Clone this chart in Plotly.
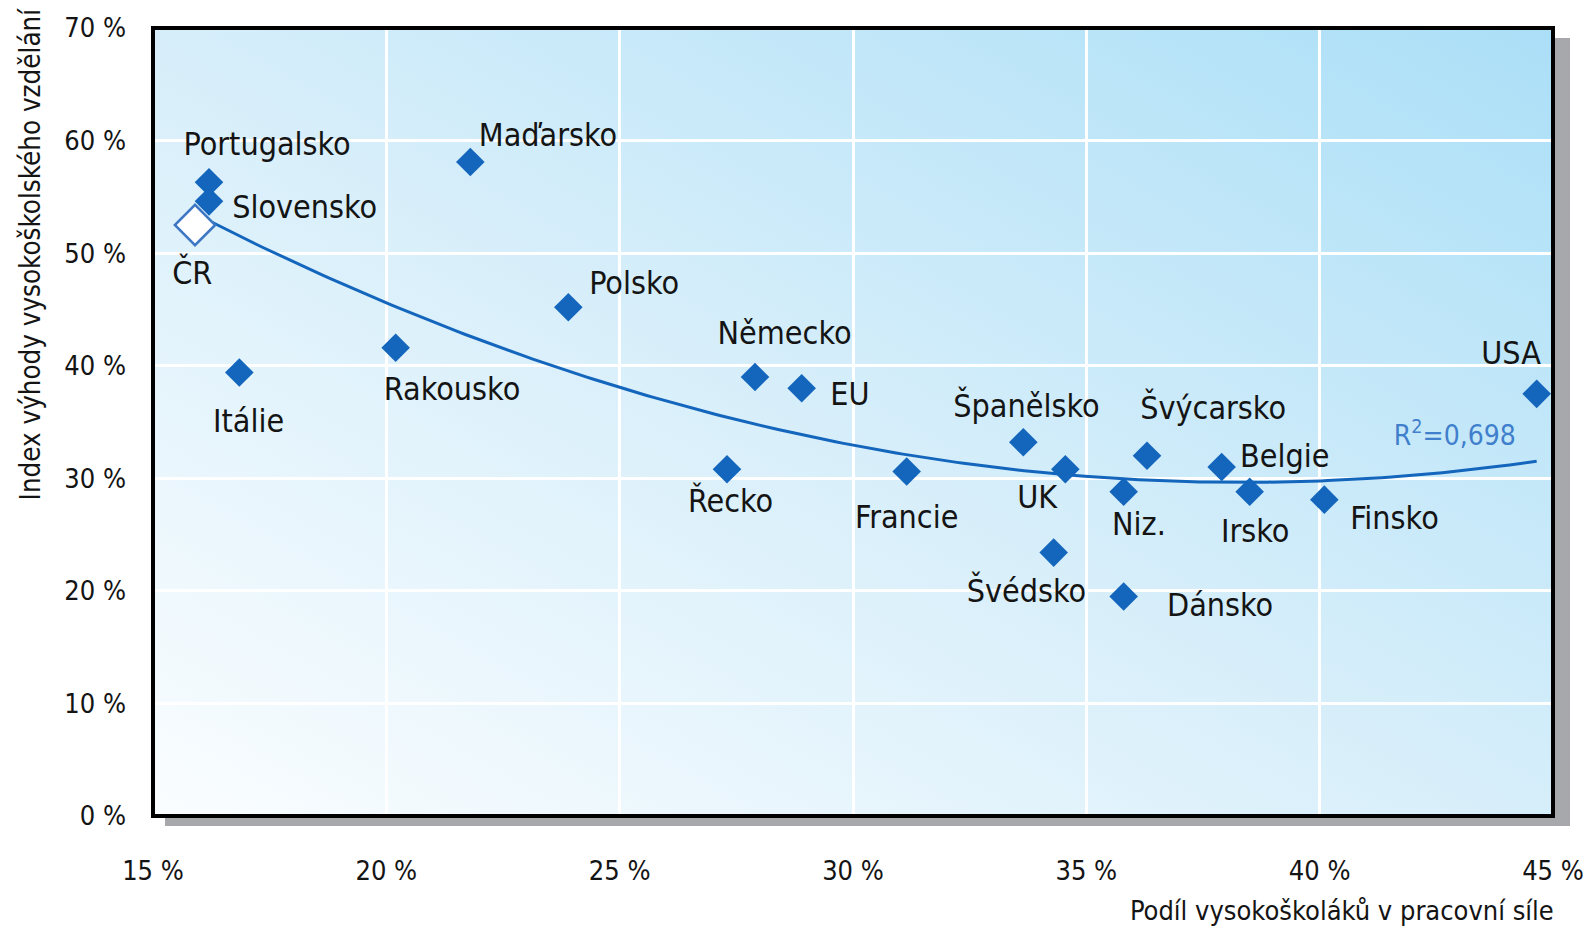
import base64
import numpy as np
import plotly.graph_objects as go

# ---------------- data ----------------
countries = ["Portugalsko", "Slovensko", "Itálie", "Rakousko", "Maďarsko", "Polsko",
             "Německo", "EU", "Řecko", "Francie", "Španělsko", "UK", "Švédsko",
             "Niz.", "Švýcarsko", "Dánsko", "Belgie", "Irsko", "Finsko", "USA"]
graduate_share = [16.2, 16.2, 16.85, 20.2, 21.8, 23.9,
                  27.9, 28.9, 27.3, 31.15, 33.65, 34.55, 34.3,
                  35.8, 36.3, 35.8, 37.9, 38.5, 40.1, 44.65]
advantage_index = [56.3, 54.6, 39.4, 41.6, 58.1, 45.2,
                   39.0, 38.0, 30.8, 30.6, 33.2, 30.8, 23.4,
                   28.8, 32.0, 19.5, 31.0, 28.8, 28.1, 37.5]

cr_name = "ČR"
cr_share = [15.9]
cr_index = [52.5]

# trend curve (quadratic, R² = 0,698)
trend_x_read = [16.36, 20, 25, 30, 35, 40, 44.7]
trend_y_read = [52.9, 45.1, 37.9, 33.2, 30.2, 29.9, 31.4]
r2_text = "R<sup>2</sup>=0,698"

x_ticks = [15, 20, 25, 30, 35, 40, 45]
x_tick_labels = ["15 %", "20 %", "25 %", "30 %", "35 %", "40 %", "45 %"]
y_ticks = [0, 10, 20, 30, 40, 50, 60, 70]
y_tick_labels = ["0 %", "10 %", "20 %", "30 %", "40 %", "50 %", "60 %", "70 %"]
x_title = "Podíl vysokoškoláků v pracovní síle"
y_title = "Index výhody vysokoškolského vzdělání"

# ---------------- layout helpers (positions / styles) ----------------
label_offsets = {  # pixel offsets of label centre from point (dx right, dy down)
    "Portugalsko": (58, -38), "Slovensko": (95, 6), "Itálie": (9, 49),
    "Rakousko": (56, 41), "Maďarsko": (78, -27), "Polsko": (66, -24),
    "Německo": (29, -44), "EU": (48, 6), "Řecko": (3, 32), "Francie": (0, 45),
    "Španělsko": (3, -37), "UK": (-28, 28), "Švédsko": (-27, 38),
    "Niz.": (15, 32), "Švýcarsko": (66, -48), "Dánsko": (96, 9),
    "Belgie": (63, -11), "Irsko": (5, 39), "Finsko": (70, 18), "USA": (-26, -41),
}

FONT = "DejaVu Sans, sans-serif"
BLUE = "#1466bd"
W, H = 1589, 937
ML, MR, MT, MB = 153, 36, 28, 121
PW, PH = W - ML - MR, H - MT - MB

coef = np.polyfit(trend_x_read, trend_y_read, 2)
tx = np.linspace(cr_share[0], max(graduate_share), 200)
ty = np.polyval(coef, tx)

fig = go.Figure()
fig.add_trace(go.Scatter(x=tx, y=ty, mode="lines",
                         line=dict(color=BLUE, width=3), hoverinfo="skip"))
fig.add_trace(go.Scatter(x=graduate_share, y=advantage_index, mode="markers",
                         marker=dict(symbol="diamond", size=22, color=BLUE,
                                     line=dict(width=0)),
                         text=countries))
fig.add_trace(go.Scatter(x=cr_share, y=cr_index, mode="markers",
                         marker=dict(symbol="diamond", size=31, color="white",
                                     line=dict(width=2.5, color="#3d77c4")),
                         text=[cr_name]))

LBL = dict(family=FONT, size=32, color="#141414")
ann = []
for name, xv, yv in zip(countries, graduate_share, advantage_index):
    dx, dy = label_offsets[name]
    ann.append(dict(x=xv, y=yv, text=name, showarrow=False, xshift=dx, yshift=-dy,
                    xanchor="center", yanchor="middle", font=LBL))
ann.append(dict(x=cr_share[0], y=cr_index[0], text=cr_name, showarrow=False,
                xshift=-3, yshift=-47, xanchor="center", yanchor="middle", font=LBL))
ann.append(dict(x=tx[-1], y=ty[-1], text=r2_text, showarrow=False,
                xshift=-82, yshift=28, xanchor="center", yanchor="middle",
                font=dict(family=FONT, size=28, color="#3f7fcc")))
# axis titles (centre anchored)
ann.append(dict(xref="paper", yref="paper", x=-123 / PW, y=1 - (254 - MT) / PH,
                text=y_title, textangle=-90, showarrow=False,
                xanchor="center", yanchor="middle",
                font=dict(family=FONT, size=27.5, color="#141414")))
ann.append(dict(xref="paper", yref="paper", x=(1342 - ML) / PW,
                y=-(910 - (H - MB)) / PH,
                text=x_title, showarrow=False, xanchor="center", yanchor="middle",
                font=dict(family=FONT, size=27, color="#141414")))

svg = ('<svg xmlns="http://www.w3.org/2000/svg" width="200" height="200" '
       'viewBox="0 0 200 200" preserveAspectRatio="none"><defs>'
       '<linearGradient id="g" x1="0" y1="1" x2="1" y2="0">'
       '<stop offset="0" stop-color="#fafdff"/>'
       '<stop offset="0.5" stop-color="#d6eefa"/>'
       '<stop offset="1" stop-color="#abdff7"/>'
       '</linearGradient></defs>'
       '<rect width="200" height="200" fill="url(#g)"/></svg>')
src = "data:image/svg+xml;base64," + base64.b64encode(svg.encode()).decode()

px = 1 / PW
py = 1 / PH
shapes = [
    dict(type="rect", xref="paper", yref="paper", layer="below",
         x0=1, x1=1 + 17 * px, y0=-10 * py, y1=1 - 10 * py,
         fillcolor="#a7a8ab", line=dict(width=0)),
    dict(type="rect", xref="paper", yref="paper", layer="below",
         x0=12 * px, x1=1 + 17 * px, y0=-10 * py, y1=0,
         fillcolor="#a7a8ab", line=dict(width=0)),
    dict(type="rect", xref="paper", yref="paper", layer="above",
         x0=0, x1=1, y0=0, y1=1, line=dict(color="black", width=4),
         fillcolor="rgba(0,0,0,0)"),
]

TICKF = dict(family=FONT, size=27, color="#141414")
fig.update_layout(
    width=W, height=H, autosize=False,
    margin=dict(l=ML, r=MR, t=MT, b=MB, pad=0, autoexpand=False),
    paper_bgcolor="white", plot_bgcolor="rgba(0,0,0,0)",
    showlegend=False,
    images=[dict(source=src, xref="paper", yref="paper", x=0, y=1,
                 sizex=1, sizey=1, xanchor="left", yanchor="top",
                 sizing="stretch", layer="below")],
    shapes=shapes,
    annotations=ann,
    xaxis=dict(range=[15, 45], tickmode="array", tickvals=x_ticks,
               ticktext=x_tick_labels, automargin=False,
               showgrid=True, gridcolor="white", gridwidth=3,
               zeroline=False, showline=False, ticks="",
               ticklabelstandoff=36, tickfont=TICKF),
    yaxis=dict(range=[0, 70], tickmode="array", tickvals=y_ticks,
               ticktext=y_tick_labels, automargin=False,
               showgrid=True, gridcolor="white", gridwidth=3,
               zeroline=False, showline=False, ticks="",
               ticklabelstandoff=26, tickfont=TICKF),
)

post = """
document.body.style.margin='0';
document.querySelectorAll('svg text').forEach(function(t){
  t.style.fontStretch='condensed';
});
"""
fig.write_html("out.html", post_script=post, config={"displayModeBar": False})
